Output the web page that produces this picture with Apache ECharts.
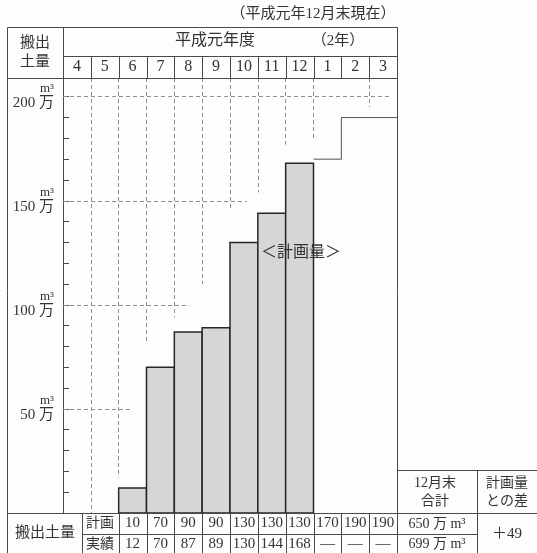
<!DOCTYPE html>
<html>
<head>
<meta charset="utf-8">
<script src="https://cdn.jsdelivr.net/npm/echarts@6/dist/echarts.min.js"></script>
<style>
  html, body { margin: 0; padding: 0; background: #fdfdfd; }
  #c { width: 537px; height: 553px; }
</style>
</head>
<body>
<div id="c"></div>
<script>
// Monthly soil removal (万 m³), fiscal Heisei 1 (April) through March of year 2
const months  = ['4', '5', '6', '7', '8', '9', '10', '11', '12', '1', '2', '3'];
const planned = [null, null, 10, 70, 90, 90, 130, 130, 130, 170, 190, 190];
const actual  = [null, null, 12, 70, 87, 89, 130, 144, 168, null, null, null];
const yLabelTicks = [50, 100, 150, 200];
const totalPlanned = '650 万 m³';
const totalActual  = '699 万 m³';
const diffLabel    = '＋49';
// dashed column guides: [column boundary, lowest value the guide reaches]
const colGuides = [[1, 0], [2, 17], [3, 82], [4, 94], [5, 110], [6, 146], [7, 154], [8, 177], [9, 180], [11, 195]];
// dashed row guides: [value, how many columns across it runs]
const rowGuides = [[50, 2.5], [100, 4.55], [150, 6.6], [200, 11.8]];

const Y_MAX = 209;
const INK = '#333';
const RULE = '#4a4a4a';
const SERIF = '"Liberation Serif", "Noto Sans CJK JP", serif';

const chart = echarts.init(document.getElementById('c'), null, { renderer: 'canvas' });

// actual amounts as full-width columns, one per month slot
const barData = [];
actual.forEach((v, i) => { if (v != null) barData.push([i, v]); });

// remaining plan after December drawn as a step outline
const stepData = [];
planned.forEach((v, i) => {
  if (v != null && actual[i] == null) stepData.push([i, v], [i + 1, v]);
});

const guideData = [];
colGuides.forEach(([i, low]) => guideData.push([{ coord: [i, Y_MAX] }, { coord: [i, low] }]));
rowGuides.forEach(([v, ext]) => guideData.push([{ coord: [0, v] }, { coord: [ext, v] }]));

chart.setOption({
  backgroundColor: '#fdfdfd',
  animation: false,
  grid: { left: 63, right: 140, top: 78, bottom: 40 },
  xAxis: [
    {
      type: 'category', data: months, position: 'top',
      axisLine: { show: false }, axisTick: { show: false },
      axisLabel: { interval: 0, margin: 11, verticalAlign: 'middle',
                   fontFamily: SERIF, fontSize: 16, color: INK }
    },
    {
      type: 'category', data: months, position: 'bottom',
      axisLine: { show: false }, axisTick: { show: false },
      axisLabel: {
        interval: 0, margin: 0, verticalAlign: 'top',
        formatter: (v, i) => i < 2 ? '' :
          '{p|' + planned[i] + '}\n{a|' + (actual[i] == null ? '—' : actual[i]) + '}',
        rich: {
          p: { fontFamily: SERIF, fontSize: 15, lineHeight: 21, color: INK },
          a: { fontFamily: SERIF, fontSize: 15, lineHeight: 21, color: INK }
        }
      }
    },
    { type: 'value', min: 0, max: 12, show: false }
  ],
  yAxis: {
    type: 'value', min: 0, max: Y_MAX, interval: 10,
    axisLine: { show: true, lineStyle: { color: RULE, width: 1 } },
    axisTick: { show: true, inside: true, length: 6, lineStyle: { color: RULE } },
    splitLine: { show: false },
    axisLabel: {
      showMaxLabel: false, margin: 9,
      formatter: v => yLabelTicks.includes(v) ? '{u|m³}\n{n|' + v + ' 万}' : '',
      rich: {
        u: { fontFamily: SERIF, fontSize: 13, lineHeight: 13, color: INK, align: 'right' },
        n: { fontFamily: SERIF, fontSize: 15, lineHeight: 17, color: INK, align: 'right' }
      }
    }
  },
  series: [
    {
      type: 'custom', xAxisIndex: 2, data: barData, z: 3,
      renderItem: (params, api) => {
        const i = api.value(0), v = api.value(1);
        const p0 = api.coord([i, 0]);
        const p1 = api.coord([i + 1, v]);
        return {
          type: 'rect',
          shape: { x: p0[0], y: p1[1], width: p1[0] - p0[0], height: p0[1] - p1[1] },
          style: { fill: '#d6d6d6', stroke: '#262626', lineWidth: 1.5 }
        };
      }
    },
    {
      type: 'line', xAxisIndex: 2, data: stepData, symbol: 'none',
      lineStyle: { color: '#555', width: 1 },
      markLine: {
        silent: true, symbol: 'none', animation: false,
        label: { show: false },
        lineStyle: { type: [4, 3], color: '#8f8f8f', width: 1 },
        data: guideData
      },
      z: 2
    }
  ]
});

// table rules and cell text around the plot
const bx = i => Math.round(chart.convertToPixel({ xAxisIndex: 2 }, i)) + 0.5;
const px = v => Math.round(v) + 0.5;
const rule = (x1, y1, x2, y2) => ({
  type: 'line', z: 50, silent: true,
  shape: { x1: px(x1), y1: px(y1), x2: px(x2), y2: px(y2) },
  style: { stroke: RULE, lineWidth: 1 }
});
const txt = (s, x, y, size, family) => ({
  type: 'text', z: 60, silent: true, x: x, y: y,
  style: { text: s, fontFamily: family || SERIF, fontSize: size || 15, fill: INK,
           align: 'center', verticalAlign: 'middle' }
});

const g = [];
// outer frame and header rows
g.push(rule(7, 27, 397, 27));
g.push(rule(7, 27, 7, 553));
g.push(rule(397, 27, 397, 553));
g.push(rule(63, 27, 63, 78));
g.push(rule(63, 56, 397, 56));
g.push(rule(7, 78, 397, 78));
for (let i = 1; i < months.length; i++) {
  const x = bx(i);
  g.push({ type: 'line', z: 50, silent: true, shape: { x1: x, y1: 56, x2: x, y2: 78 },
           style: { stroke: RULE, lineWidth: 1 } });
}
// bottom value rows
g.push(rule(7, 513, 537, 513));
g.push(rule(82, 534, 477, 534));
g.push(rule(82, 513, 82, 553));
for (let i = 2; i < months.length; i++) {
  const x = bx(i);
  g.push({ type: 'line', z: 50, silent: true, shape: { x1: x, y1: 513, x2: x, y2: 553 },
           style: { stroke: RULE, lineWidth: 1 } });
}
// totals box
g.push(rule(397, 470, 537, 470));
g.push(rule(477, 470, 477, 553));
g.push(rule(397, 534, 477, 534));

g.push(txt('（平成元年12月末現在）', 313, 14, 15));
g.push(txt('搬出', 35, 43, 15));
g.push(txt('土量', 35, 62, 15));
g.push(txt('平成元年度', 215, 41, 16));
g.push(txt('（2年）', 338, 41, 15));
g.push(txt('＜計画量＞', 301, 253, 16));
g.push(txt('搬出土量', 45, 533, 15));
g.push(txt('計画', 100, 523, 14));
g.push(txt('実績', 100, 544, 14));
g.push(txt('12月末', 435, 483, 14));
g.push(txt('合計', 435, 501, 14));
g.push(txt('計画量', 507, 483, 14));
g.push(txt('との差', 507, 501, 14));
g.push(txt(totalPlanned, 437, 524, 14));
g.push(txt(totalActual, 437, 544, 14));
g.push(txt(diffLabel, 507, 534, 15));

chart.setOption({ graphic: g });
</script>
</body>
</html>
